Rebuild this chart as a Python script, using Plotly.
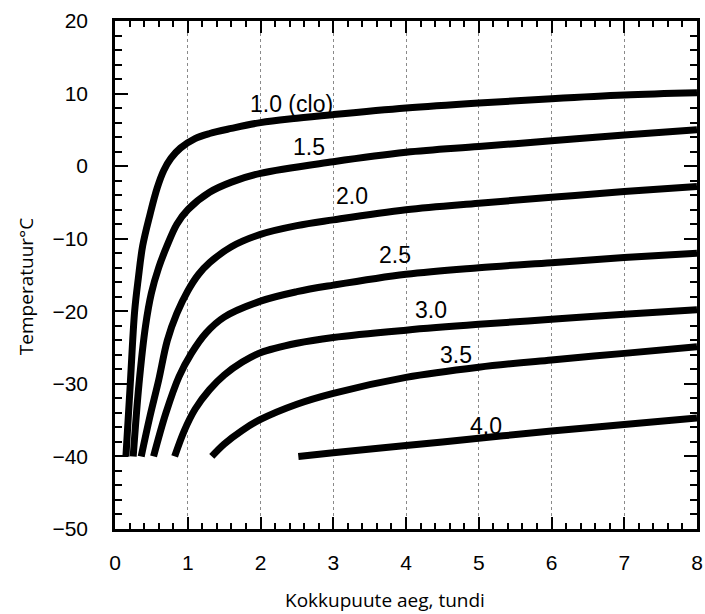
import plotly.graph_objects as go

# Exposure time (hours) and temperature (°C) for each clo value
clo_labels = ["1.0 (clo)", "1.5", "2.0", "2.5", "3.0", "3.5", "4.0"]

x_10 = [0.15, 0.21, 0.27, 0.32, 0.38, 0.48, 0.58, 0.67, 0.77, 0.90, 1.1, 1.3, 1.6, 2, 2.5, 3, 4, 5, 6, 7, 8]
t_10 = [-40, -30, -20, -15.5, -11, -6.7, -3.0, -0.6, 1.1, 2.5, 3.8, 4.5, 5.2, 6.0, 6.6, 7.1, 8.0, 8.7, 9.3, 9.8, 10.1]

x_15 = [0.25, 0.33, 0.42, 0.50, 0.60, 0.71, 0.85, 1.0, 1.3, 1.6, 2, 3, 4, 5, 6, 7, 8]
t_15 = [-40, -30, -22, -17.5, -14, -11.1, -8.0, -6.0, -3.6, -2.2, -1.0, 0.6, 1.9, 2.7, 3.5, 4.3, 5.0]

x_20 = [0.36, 0.48, 0.60, 0.72, 0.85, 1.0, 1.15, 1.3, 1.6, 2, 2.5, 3, 4, 5, 6, 7, 8]
t_20 = [-40, -34.5, -29.5, -24, -20.3, -17.2, -14.9, -13.3, -11.1, -9.4, -8.2, -7.4, -6.0, -5.1, -4.3, -3.5, -2.8]

x_25 = [0.53, 0.70, 0.88, 1.05, 1.25, 1.5, 2, 2.5, 3, 4, 5, 6, 7, 8]
t_25 = [-40, -34, -29, -25.8, -23, -20.8, -18.6, -17.3, -16.4, -14.9, -14.0, -13.3, -12.6, -12.0]

x_30 = [0.82, 0.95, 1.1, 1.3, 1.5, 1.75, 2, 2.5, 3, 4, 5, 6, 7, 8]
t_30 = [-40, -36.5, -33.5, -30.8, -28.8, -27, -25.7, -24.4, -23.6, -22.6, -21.8, -21.1, -20.4, -19.8]

x_35 = [1.33, 1.5, 1.75, 2, 2.5, 3, 4, 5, 6, 7, 8]
t_35 = [-40, -38.3, -36.4, -34.9, -32.8, -31.3, -29.1, -27.7, -26.7, -25.8, -24.9]

x_40 = [2.52, 3, 4, 5, 6, 7, 8]
t_40 = [-40, -39.5, -38.5, -37.5, -36.5, -35.6, -34.7]

# label positions (hours, °C)
label_x = [2.43, 2.67, 3.26, 3.85, 4.35, 4.69, 5.10]
label_t = [8.6, 2.6, -4.05, -12.2, -19.8, -26.0, -35.8]

x_ticks = [0, 1, 2, 3, 4, 5, 6, 7, 8]
y_ticks = [-50, -40, -30, -20, -10, 0, 10, 20]
y_tick_text = ["\u221250", "\u221240", "\u221230", "\u221220", "\u221210", "0", "10", "20"]

x_title = "Kokkupuute aeg, tundi"
y_title = "Temperatuur°C"

series = [(x_10, t_10), (x_15, t_15), (x_20, t_20), (x_25, t_25),
          (x_30, t_30), (x_35, t_35), (x_40, t_40)]

fig = go.Figure()
for (xs, ts), name in zip(series, clo_labels):
    fig.add_trace(go.Scatter(x=xs, y=ts, mode="lines", name=name,
                             line=dict(color="black", width=7, shape="spline", smoothing=1.0),
                             showlegend=False))

# empty trace to carry the mirrored (top/right) tick axes
fig.add_trace(go.Scatter(x=[], y=[], xaxis="x2", yaxis="y2", showlegend=False, hoverinfo="skip"))

for lx, lt, txt in zip(label_x, label_t, clo_labels):
    fig.add_annotation(x=lx, y=lt, text=txt, showarrow=False,
                       font=dict(family="Liberation Sans, Arial", size=23, color="black"))

title_font = dict(family="Open Sans", size=19, color="black")
fig.add_annotation(xref="paper", yref="paper", x=0.464, y=-0.14, text=x_title,
                   showarrow=False, font=title_font, xanchor="center", yanchor="middle")
fig.add_annotation(xref="paper", yref="paper", x=-0.153, y=0.478, text=y_title, textangle=-90,
                   showarrow=False, font=title_font, xanchor="center", yanchor="middle")

tick_font = dict(size=21, family="Liberation Sans, Arial", color="black")

fig.update_layout(
    width=705, height=614,
    margin=dict(l=115, r=8, t=21, b=85, autoexpand=False),
    paper_bgcolor="white", plot_bgcolor="white",
    font=dict(family="Liberation Sans, Arial", color="black"),
    xaxis=dict(
        range=[0, 8], tickvals=x_ticks, ticks="inside", ticklen=12, tickwidth=2,
        tickcolor="black", showline=True, linecolor="black", linewidth=2.5, mirror=True,
        showgrid=True, gridcolor="#8a8a8a", gridwidth=1, griddash="dot",
        zeroline=False, tickfont=tick_font, ticklabelstandoff=13, automargin=False,
        minor=dict(dtick=0.2, ticks="inside", ticklen=6, tickwidth=2, tickcolor="black", showgrid=False),
    ),
    yaxis=dict(
        range=[-50, 20], tickvals=y_ticks, ticktext=y_tick_text, ticks="inside", ticklen=13, tickwidth=2,
        tickcolor="black", showline=True, linecolor="black", linewidth=2.5, mirror=True,
        showgrid=False, zeroline=False, tickfont=tick_font, ticklabelstandoff=20, automargin=False,
        minor=dict(dtick=2, ticks="inside", ticklen=7, tickwidth=2, tickcolor="black", showgrid=False),
    ),
    xaxis2=dict(overlaying="x", side="top", range=[0, 8], tickvals=x_ticks, ticks="inside",
                ticklen=12, tickwidth=2, tickcolor="black", showticklabels=False, automargin=False,
                showgrid=False, zeroline=False, showline=False,
                minor=dict(dtick=0.2, ticks="inside", ticklen=6, tickwidth=2, tickcolor="black")),
    yaxis2=dict(overlaying="y", side="right", range=[-50, 20], tickvals=y_ticks, ticks="inside",
                ticklen=13, tickwidth=2, tickcolor="black", showticklabels=False, automargin=False,
                showgrid=False, zeroline=False, showline=False,
                minor=dict(dtick=2, ticks="inside", ticklen=7, tickwidth=2, tickcolor="black")),
)

fig.write_html("out.html", config={"displayModeBar": False},
               post_script="document.body.style.margin='0';")
